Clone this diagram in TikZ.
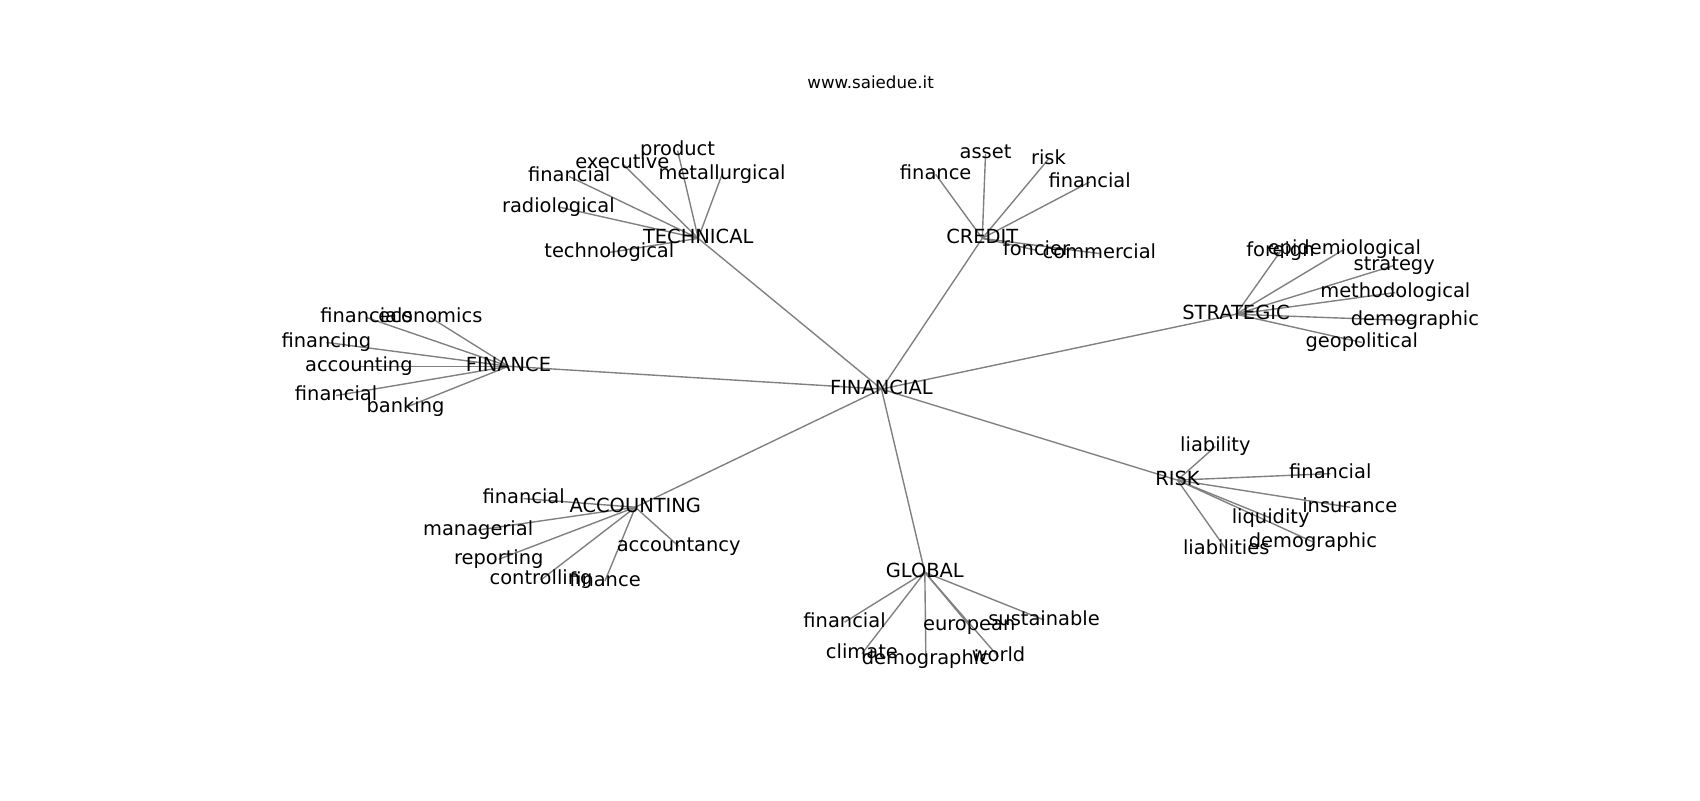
\documentclass[tikz,border=0pt]{standalone}
\usepackage{fontspec}
\setmainfont{DejaVu Sans}
\usetikzlibrary{positioning, backgrounds}

\begin{document}
\begin{tikzpicture}[x=1.08418pt, y=-1.08418pt,
			word/.style={inner sep=0pt, text height=14.8pt, text depth=4.6pt, yshift=-2pt, font=\fontsize{19.44pt}{23pt}\selectfont},
			hub/.style={word},
			link/.style={draw=gray, line width=1.39pt},
			webtitle/.style={inner sep=0pt, font=\fontsize{16.67pt}{20pt}\selectfont}
			]
			\useasboundingbox (0,0) rectangle (1568,738);
			\node[webtitle] (site) at (803,76) {www.saiedue.it};
			
			\node[hub] (fin) at (813,357) {FINANCIAL};
			\node[hub] (tech) at (644,218) {TECHNICAL};
			\node[hub] (credit) at (906,218) {CREDIT};
			\node[hub] (strat) at (1140,288) {STRATEGIC};
			\node[hub] (finance) at (469,336) {FINANCE};
			\node[hub] (acc) at (586,466) {ACCOUNTING};
			\node[hub] (global) at (853,526) {GLOBAL};
			\node[hub] (risk) at (1086,441) {RISK};
			
			\node[word] (tech1) at (625,137) {product};
			\node[word] (tech2) at (574,149) {executive};
			\node[word] (tech3) at (525,161) {financial};
			\node[word] (tech4) at (666,159) {metallurgical};
			\node[word] (tech5) at (515,189) {radiological};
			\node[word] (tech6) at (562,231) {technological};
			
			\node[word] (cred1) at (863,159) {finance};
			\node[word] (cred2) at (909,140) {asset};
			\node[word] (cred3) at (967,145) {risk};
			\node[word] (cred4) at (1005,166) {financial};
			\node[word] (cred5) at (956,229) {foncier};
			\node[word] (cred6) at (1014,232) {commercial};
			
			\node[word] (strat1) at (1181,230) {foreign};
			\node[word] (strat2) at (1240,228) {epidemiological};
			\node[word] (strat3) at (1286,243) {strategy};
			\node[word] (strat4) at (1287,268) {methodological};
			\node[word] (strat5) at (1305,294) {demographic};
			\node[word] (strat6) at (1256,314) {geopolitical};
			
			\node[word] (fnc1) at (338,291) {financials};
			\node[word] (fnc2) at (397,291) {economics};
			\node[word] (fnc3) at (301,314) {financing};
			\node[word] (fnc4) at (331,336) {accounting};
			\node[word] (fnc5) at (310,363) {financial};
			\node[word] (fnc6) at (374,374) {banking};
			
			\node[word] (acc1) at (483,458) {financial};
			\node[word] (acc2) at (441,487) {managerial};
			\node[word] (acc3) at (460,514) {reporting};
			\node[word] (acc4) at (499,533) {controlling};
			\node[word] (acc5) at (558,534) {finance};
			\node[word] (acc6) at (626,502) {accountancy};
			
			\node[word] (glob1) at (779,572) {financial};
			\node[word] (glob2) at (795,601) {climate};
			\node[word] (glob3) at (854,606) {demographic};
			\node[word] (glob4) at (894,575) {european};
			\node[word] (glob5) at (963,570) {sustainable};
			\node[word] (glob6) at (921,604) {world};
			
			\node[word] (risk1) at (1121,410) {liability};
			\node[word] (risk2) at (1227,435) {financial};
			\node[word] (risk3) at (1245,466) {insurance};
			\node[word] (risk4) at (1172,476) {liquidity};
			\node[word] (risk5) at (1211,498) {demographic};
			\node[word] (risk6) at (1131,505) {liabilities};
			
			\begin{scope}[on background layer]
			\draw[link] (fin.center) -- (tech.center);
			\draw[link] (fin.center) -- (credit.center);
			\draw[link] (fin.center) -- (strat.center);
			\draw[link] (fin.center) -- (finance.center);
			\draw[link] (fin.center) -- (acc.center);
			\draw[link] (fin.center) -- (global.center);
			\draw[link] (fin.center) -- (risk.center);
			
			\draw[link] (tech.center) -- (tech1.center);
			\draw[link] (tech.center) -- (tech2.center);
			\draw[link] (tech.center) -- (tech3.center);
			\draw[link] (tech.center) -- (tech4.center);
			\draw[link] (tech.center) -- (tech5.center);
			\draw[link] (tech.center) -- (tech6.center);
			
			\draw[link] (credit.center) -- (cred1.center);
			\draw[link] (credit.center) -- (cred2.center);
			\draw[link] (credit.center) -- (cred3.center);
			\draw[link] (credit.center) -- (cred4.center);
			\draw[link] (credit.center) -- (cred5.center);
			\draw[link] (credit.center) -- (cred6.center);
			
			\draw[link] (strat.center) -- (strat1.center);
			\draw[link] (strat.center) -- (strat2.center);
			\draw[link] (strat.center) -- (strat3.center);
			\draw[link] (strat.center) -- (strat4.center);
			\draw[link] (strat.center) -- (strat5.center);
			\draw[link] (strat.center) -- (strat6.center);
			
			\draw[link] (finance.center) -- (fnc1.center);
			\draw[link] (finance.center) -- (fnc2.center);
			\draw[link] (finance.center) -- (fnc3.center);
			\draw[link] (finance.center) -- (fnc4.center);
			\draw[link] (finance.center) -- (fnc5.center);
			\draw[link] (finance.center) -- (fnc6.center);
			
			\draw[link] (acc.center) -- (acc1.center);
			\draw[link] (acc.center) -- (acc2.center);
			\draw[link] (acc.center) -- (acc3.center);
			\draw[link] (acc.center) -- (acc4.center);
			\draw[link] (acc.center) -- (acc5.center);
			\draw[link] (acc.center) -- (acc6.center);
			
			\draw[link] (global.center) -- (glob1.center);
			\draw[link] (global.center) -- (glob2.center);
			\draw[link] (global.center) -- (glob3.center);
			\draw[link] (global.center) -- (glob4.center);
			\draw[link] (global.center) -- (glob5.center);
			\draw[link] (global.center) -- (glob6.center);
			
			\draw[link] (risk.center) -- (risk1.center);
			\draw[link] (risk.center) -- (risk2.center);
			\draw[link] (risk.center) -- (risk3.center);
			\draw[link] (risk.center) -- (risk4.center);
			\draw[link] (risk.center) -- (risk5.center);
			\draw[link] (risk.center) -- (risk6.center);
			\end{scope}
			\end{tikzpicture}
\end{document}
